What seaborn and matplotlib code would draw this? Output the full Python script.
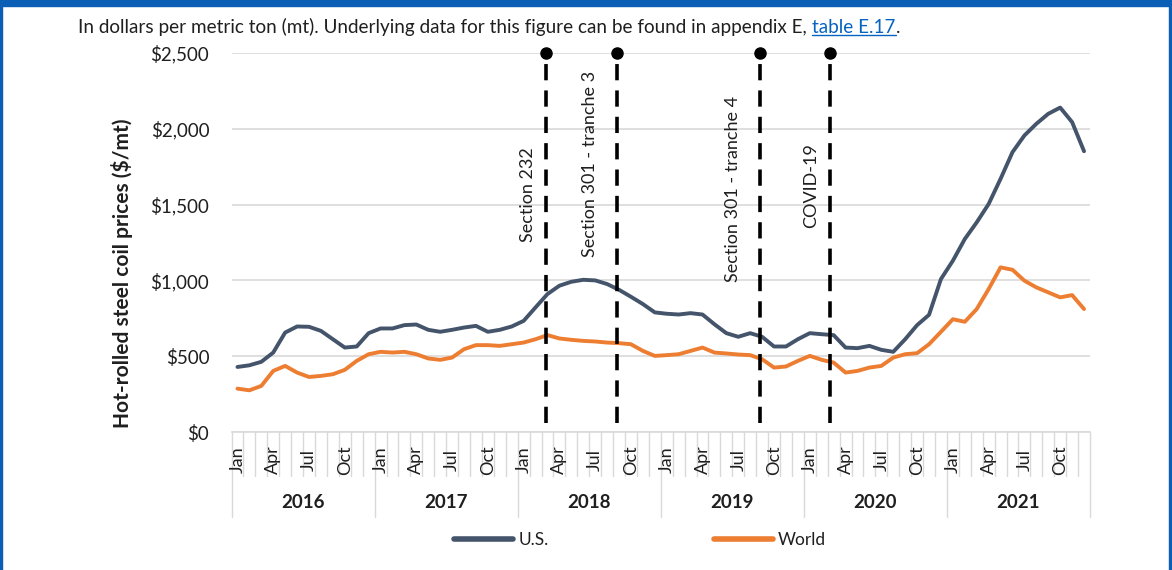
import matplotlib
matplotlib.use("Agg")
import matplotlib.pyplot as plt
import matplotlib.transforms as mtransforms
from matplotlib.patches import Rectangle
from matplotlib.lines import Line2D
import pandas as pd
import seaborn as sns

# Monthly hot-rolled steel coil prices, Jan 2016 - Dec 2021 ($/mt)
years = [2016, 2017, 2018, 2019, 2020, 2021]
month_names = ['Jan', 'Feb', 'Mar', 'Apr', 'May', 'Jun',
               'Jul', 'Aug', 'Sep', 'Oct', 'Nov', 'Dec']
us_prices = [
    429, 440, 463, 524, 656, 696, 694, 667, 612, 557, 564, 652,
    683, 683, 705, 709, 674, 661, 674, 689, 700, 661, 674, 696,
    733, 822, 910, 965, 991, 1004, 1000, 976, 938, 892, 844, 789,
    780, 775, 784, 775, 711, 652, 628, 652, 628, 564, 564, 612,
    652, 645, 639, 557, 553, 568, 542, 529, 612, 705, 773, 1009,
    1130, 1273, 1383, 1504, 1670, 1846, 1956, 2033, 2099, 2140, 2044, 1852,
]
world_prices = [
    286, 275, 304, 403, 436, 392, 363, 370, 381, 410, 469, 513,
    529, 524, 529, 513, 485, 476, 491, 546, 573, 573, 568, 579,
    590, 612, 639, 617, 608, 601, 597, 590, 586, 579, 535, 502,
    507, 513, 535, 557, 524, 518, 511, 507, 480, 425, 432, 469,
    502, 476, 458, 392, 403, 425, 436, 491, 513, 520, 579, 661,
    744, 727, 811, 943, 1086, 1070, 998, 954, 921, 888, 903, 811,
]
# Trade / market events (fractional month index from Jan 2016)
event_names = ['Section 232', 'Section 301 - tranche 3',
               'Section 301 - tranche 4', 'COVID-19']
event_months = [25.85, 31.85, 43.8, 49.7]

US_COLOR = '#44546A'
WORLD_COLOR = '#ED7D31'
GRID_COLOR = '#D9D9D9'
TEXT_COLOR = '#1F1F1F'

sns.set_style('white')
plt.rcParams['font.family'] = ['Lato', 'DejaVu Sans']

n = len(us_prices)
df = pd.DataFrame({
    'month': list(range(n)) * 2,
    'price': us_prices + world_prices,
    'series': ['U.S.'] * n + ['World'] * n,
})

fig = plt.figure(figsize=(11.72, 5.70), dpi=100)
ax = fig.add_axes([231.5 / 1172, 138 / 570, (1090 - 231.5) / 1172, 379 / 570])

sns.lineplot(data=df, x='month', y='price', hue='series',
             palette={'U.S.': US_COLOR, 'World': WORLD_COLOR},
             linewidth=2.8, ax=ax, legend=False, zorder=3)

ax.set_xlim(-0.5, n - 0.5)
ax.set_ylim(0, 2500)
ax.set_yticks(range(0, 2501, 500))
ax.set_yticklabels(['$0', '$500', '$1,000', '$1,500', '$2,000', '$2,500'],
                   fontsize=13.5, color=TEXT_COLOR)
ax.tick_params(axis='y', length=0, pad=16)
ax.set_xticks([])
ax.set_xlabel('')
ax.set_ylabel('')
ax.yaxis.grid(True, color=GRID_COLOR, linewidth=1.2)
ax.set_axisbelow(True)
for side in ['top', 'right', 'left']:
    ax.spines[side].set_visible(False)
ax.spines['bottom'].set_color(GRID_COLOR)
ax.spines['bottom'].set_linewidth(1.2)

# Event markers: dashed verticals with a dot on top
for xm in event_months:
    ax.plot([xm, xm], [60, 2500], color='black', linewidth=2.6,
            linestyle=(0, (4.5, 2.8)), zorder=4)
    ax.plot([xm], [2500], marker='o', markersize=8, color='black',
            clip_on=False, zorder=5)

label_pos = [(24.35, 1253), (29.55, 1154), (41.55, 989), (48.15, 1346)]
for name, (lx, ly) in zip(event_names, label_pos):
    ax.text(lx, ly, name, rotation=90, ha='center', va='bottom',
            fontsize=13, color=TEXT_COLOR, zorder=6)

# Two-level category axis (months / years)
trans = mtransforms.blended_transform_factory(ax.transData, ax.transAxes)
for i in range(n + 1):
    depth = -0.225 if i % 12 == 0 else -0.117
    ax.plot([i - 0.5, i - 0.5], [0, depth], color=GRID_COLOR, linewidth=1.0,
            transform=trans, clip_on=False)
for i in range(n):
    if i % 3 == 0:
        ax.text(i, -0.074, month_names[i % 12], rotation=90, ha='center',
                va='center', fontsize=13, color=TEXT_COLOR, transform=trans)
for k, yr in enumerate(years):
    ax.text(k * 12 + 5.5, -0.187, str(yr), ha='center', va='center',
            fontsize=13.5, fontweight='bold', color=TEXT_COLOR,
            transform=trans)

# Axis title
fig.text(122 / 1172, 1 - 273 / 570, 'Hot-rolled steel coil prices ($/mt)',
         rotation=90, ha='center', va='center', fontsize=15,
         fontweight='bold', color=TEXT_COLOR)

# Note line with link-style reference
t1 = fig.text(78 / 1172, 1 - 27 / 570,
              'In dollars per metric ton (mt). Underlying data for this figure '
              'can be found in appendix E,',
              ha='left', va='center', fontsize=13.6, color=TEXT_COLOR)
t2 = ax.annotate('table E.17', xy=(1, 0), xycoords=t1, xytext=(4, 0),
                 textcoords='offset points', ha='left', va='bottom',
                 fontsize=13.6, color='#0563C1', annotation_clip=False)
t3 = ax.annotate('.', xy=(1, 0), xycoords=t2, ha='left', va='bottom',
                 fontsize=13.6, color=TEXT_COLOR, annotation_clip=False)

# Legend
handles = [Line2D([], [], color=US_COLOR, linewidth=4, solid_capstyle='round'),
           Line2D([], [], color=WORLD_COLOR, linewidth=4, solid_capstyle='round')]
fig.legend(handles, ['U.S.', 'World'], loc='center',
           bbox_to_anchor=(640 / 1172, 1 - 540 / 570), ncol=2, frameon=False,
           fontsize=12.5, handlelength=3.4, handletextpad=0.3,
           columnspacing=9.5, labelcolor=TEXT_COLOR)

# Blue frame around the exhibit
frame_color = '#0A5EB6'
fig.add_artist(Rectangle((0, 1 - 6 / 570), 1, 6 / 570, transform=fig.transFigure,
                         color=frame_color, zorder=10))
fig.add_artist(Rectangle((0, 0), 2 / 1172, 1, transform=fig.transFigure,
                         color=frame_color, zorder=10))
fig.add_artist(Rectangle((1 - 3 / 1172, 0), 3 / 1172, 1, transform=fig.transFigure,
                         color=frame_color, zorder=10))

# Underline the link text
fig.canvas.draw()
bb = t2.get_window_extent(fig.canvas.get_renderer())
fig.add_artist(Line2D([bb.x0, bb.x1], [bb.y0 + 1, bb.y0 + 1], color='#0563C1',
                      linewidth=1.0, transform=mtransforms.IdentityTransform()))

fig.savefig('out.png', dpi=100)
